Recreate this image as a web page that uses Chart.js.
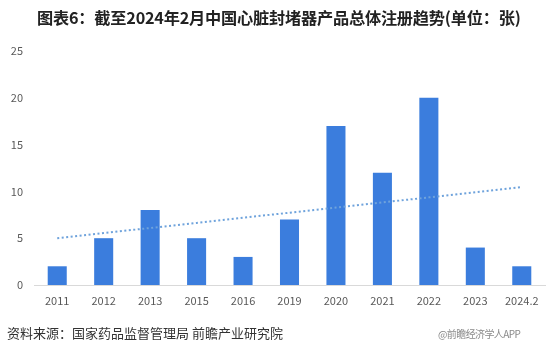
<!DOCTYPE html>
<html>
<head>
<meta charset="utf-8">
<script src="https://cdn.jsdelivr.net/npm/chart.js@4"></script>
<style>
  html, body { margin:0; padding:0; background:#fff; }
  #wrap { position:relative; width:554px; height:356px; overflow:hidden; }
  #c { position:absolute; left:0; top:0; }
  .title { position:absolute; left:37px; top:5px; font-family:"Noto Sans CJK SC", sans-serif; font-weight:bold; font-size:16.2px; color:#222; white-space:nowrap; letter-spacing:-0.2px; }
  .src { position:absolute; left:7px; top:323px; font-family:"Noto Sans CJK SC", sans-serif; font-size:13px; color:#333; white-space:nowrap; }
  .wm { position:absolute; left:438px; top:326px; font-family:"Noto Sans CJK SC", sans-serif; font-size:10px; color:#8a8a8a; white-space:nowrap; letter-spacing:-0.6px; }
</style>
</head>
<body>
<div id="wrap">
  <canvas id="c" width="554" height="356"></canvas>
  <div class="title">图表6：截至2024年2月中国心脏封堵器产品总体注册趋势(单位：张)</div>
  <div class="src">资料来源：国家药品监督管理局 前瞻产业研究院</div>
  <div class="wm">@前瞻经济学人APP</div>
</div>
<script>
const categories = ["2011","2012","2013","2015","2016","2019","2020","2021","2022","2023","2024.2"];
const registrations = [2, 5, 8, 5, 3, 7, 17, 12, 20, 4, 2];
const yTicks = [0, 5, 10, 15, 20, 25];

// Linear trend line (least squares over the series, as in the source chart)
const n = registrations.length;
const xMean = (n - 1) / 2;
const yMean = registrations.reduce((a, b) => a + b, 0) / n;
let sxy = 0, sxx = 0;
registrations.forEach((v, i) => { sxy += (i - xMean) * (v - yMean); sxx += (i - xMean) * (i - xMean); });
const slope = sxy / sxx;
const trend = registrations.map((v, i) => yMean + slope * (i - xMean));

new Chart(document.getElementById('c'), {
  data: {
    labels: categories,
    datasets: [
      {
        type: 'line',
        data: trend,
        borderColor: '#6fa3dc',
        borderWidth: 2,
        borderDash: [2, 2.5],
        pointRadius: 0,
        fill: false,
        order: 0
      },
      {
        type: 'bar',
        data: registrations,
        backgroundColor: '#3b7ddd',
        barPercentage: 0.41,
        categoryPercentage: 1.0,
        order: 1
      }
    ]
  },
  options: {
    responsive: false,
    animation: false,
    layout: { padding: { left: 0, right: 9, top: 51, bottom: 0 } },
    plugins: { legend: { display: false }, tooltip: { enabled: false }, title: { display: false } },
    scales: {
      x: {
        grid: { display: false, drawTicks: false },
        border: { display: true, color: '#d9d9d9', width: 1 },
        ticks: { color: '#595959', font: { family: 'Noto Sans CJK SC', size: 11 }, padding: 9, maxRotation: 0, autoSkip: false },
        afterFit: s => { s.height = 71; }
      },
      y: {
        min: 0, max: 25,
        afterBuildTicks: s => { s.ticks = yTicks.map(v => ({ value: v })); },
        grid: { display: false, drawTicks: false },
        border: { display: false },
        ticks: { color: '#595959', font: { family: 'Noto Sans CJK SC', size: 11 }, padding: 11, align: 'center' },
        afterFit: s => { s.width = 34; }
      }
    }
  }
});
</script>
</body>
</html>
